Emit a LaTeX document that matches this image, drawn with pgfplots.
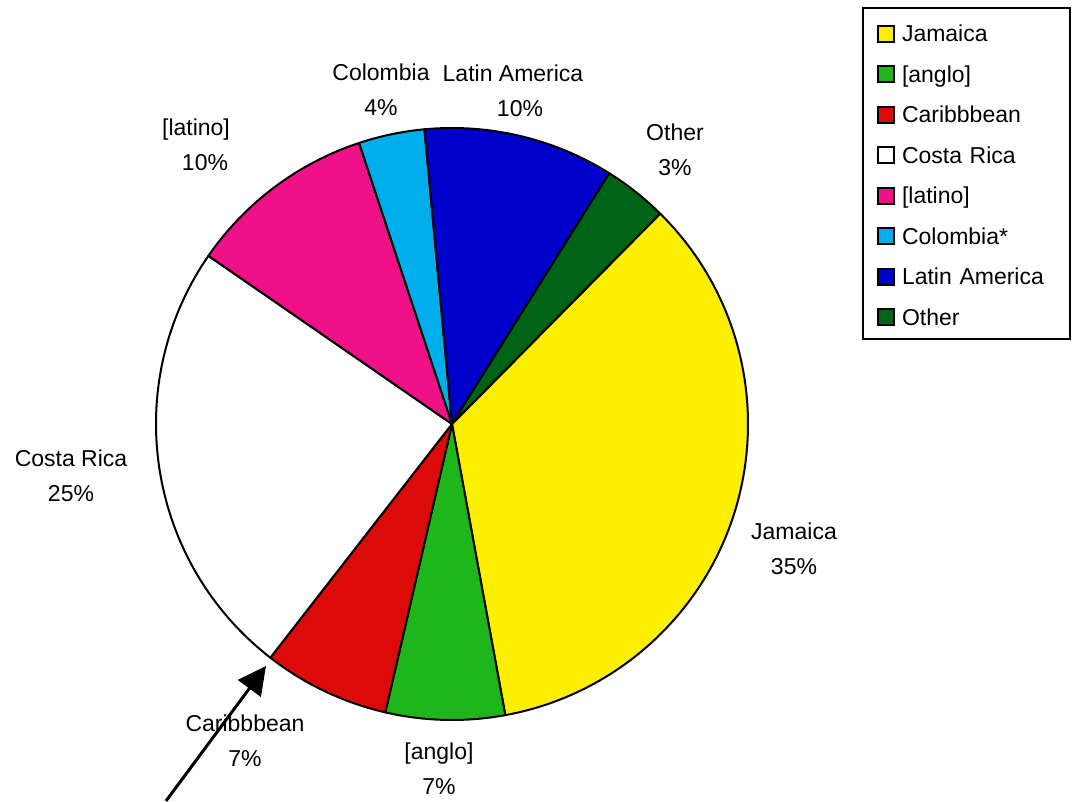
\documentclass[border=0pt]{standalone}
\usepackage{fontspec}
\setmainfont{Liberation Sans}
\usepackage{pgfplots}
\usepackage{pgfplotstable}
\pgfplotsset{compat=1.18}
\usetikzlibrary{arrows.meta}

\definecolor{cjam}{RGB}{252,240,0}
\definecolor{cang}{RGB}{30,182,26}
\definecolor{ccar}{RGB}{221,10,10}
\definecolor{ccos}{RGB}{255,255,255}
\definecolor{clat}{RGB}{240,16,136}
\definecolor{ccol}{RGB}{0,174,236}
\definecolor{clam}{RGB}{0,0,204}
\definecolor{coth}{RGB}{0,100,22}

\pgfplotstableread{
name value color
Jamaica 34.7 cjam
anglo 6.5 cang
Caribbbean 6.9 ccar
CostaRica 24.1 ccos
latino 10.3 clat
Colombia 3.6 ccol
LatinAmerica 10.4 clam
Other 3.5 coth
}\piedata

\begin{document}
\begin{tikzpicture}[font=\fontsize{23}{35}\selectfont]
\begin{axis}[
  scale only axis, width=1074pt, height=801pt,
  xmin=0, xmax=1074, ymin=-801, ymax=0,
  hide axis, clip=false,
  legend style={at={(axis cs:862,-7)}, anchor=north west, draw=black, line width=2pt,
    inner xsep=14pt, inner ysep=9.75pt, row sep=12.5pt, column sep=5pt,
    font=\fontsize{23}{28}\selectfont,
    nodes={text height=21pt, text depth=1pt, inner xsep=2pt, inner ysep=3pt, text width=152pt, align=left}},
  legend cell align=left,
  legend image code/.code={\draw[#1, draw=black, line width=2pt] (0pt,-10pt) rectangle (16pt,6pt);},
]
\addlegendimage{fill=cjam}\addlegendentry{Jamaica}
\addlegendimage{fill=cang}\addlegendentry{[anglo]}
\addlegendimage{fill=ccar}\addlegendentry{Caribbbean}
\addlegendimage{fill=ccos}\addlegendentry{Costa Rica}
\addlegendimage{fill=clat}\addlegendentry{[latino]}
\addlegendimage{fill=ccol}\addlegendentry{Colombia*}
\addlegendimage{fill=clam}\addlegendentry{Latin America}
\addlegendimage{fill=coth}\addlegendentry{Other}

\xdef\startang{45.3}
\foreach \i in {0,...,7}{
  \pgfplotstablegetelem{\i}{value}\of\piedata \let\val\pgfplotsretval
  \pgfplotstablegetelem{\i}{color}\of\piedata \let\col\pgfplotsretval
  \pgfmathsetmacro{\endang}{\startang-3.6*\val}
  \edef\temp{\noexpand\filldraw[fill=\col, draw=black, line width=2pt, line join=round]
    (axis cs:452,-424) -- ++(\startang:296pt) arc[start angle=\startang, end angle=\endang, radius=296pt] -- cycle;}
  \temp
  \xdef\startang{\endang}
}

\node[align=center] at (axis cs:381,-90) {Colombia\\4\%};
\node[align=center] at (axis cs:513,-91) {Latin America\\\hspace*{14pt}10\%};
\node[align=center] at (axis cs:196,-145) {[latino]\\\hspace*{18pt}10\%};
\node[align=center] at (axis cs:675,-150) {Other\\3\%};
\node[align=center] at (axis cs:71,-476) {Costa Rica\\25\%};
\node[align=center] at (axis cs:794,-549) {Jamaica\\35\%};
\node[align=center] at (axis cs:245,-741) {Caribbbean\\7\%};
\node[align=center] at (axis cs:439,-769) {[anglo]\\7\%};

\draw[-{Triangle[length=28pt,width=28pt]}, line width=3pt] (axis cs:166,-801) -- (axis cs:266,-666);
\end{axis}
\pgfresetboundingbox
\path (current axis.south west) rectangle (current axis.north east);
\end{tikzpicture}
\end{document}
